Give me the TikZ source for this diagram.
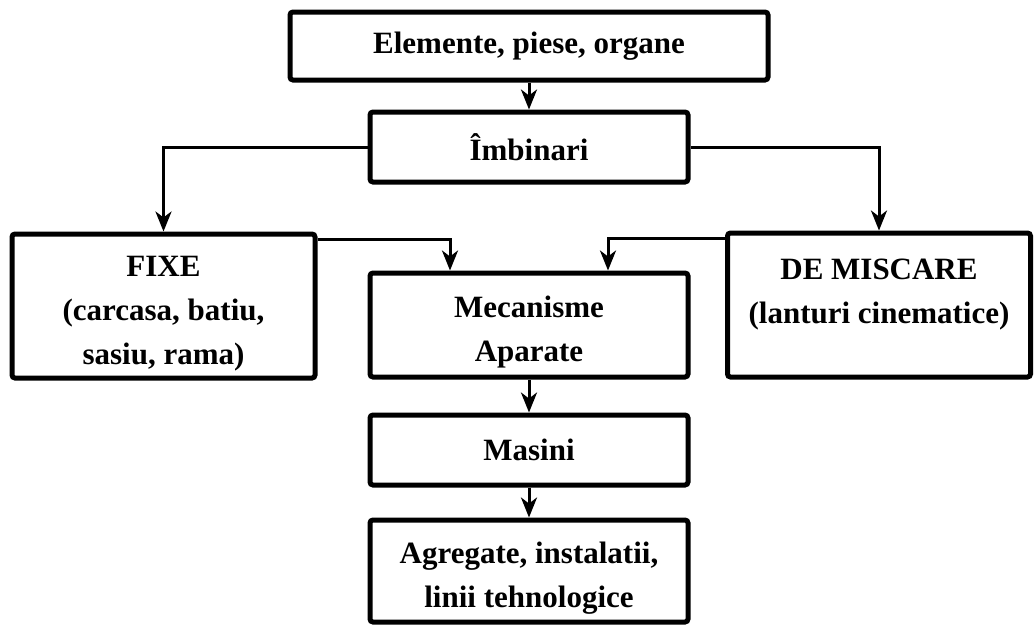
\documentclass[tikz,border=0pt]{standalone}
\usepackage{fontspec}
\setmainfont{Liberation Serif}[BoldFont={Liberation Serif Bold}]
\usetikzlibrary{arrows.meta, positioning}
\newcommand{\topgap}{\rule{0pt}{36pt}}

\begin{document}
\begin{tikzpicture}[
            x=1pt, y=-1pt,
            block/.style ={rectangle, rounded corners=3pt, draw=black, line width=5pt,
                           fill=white, minimum width=318pt, align=center, inner sep=0pt,
                           font=\fontsize{31}{44}\selectfont\bfseries},
            arrow/.style ={-{Stealth[length=20pt, width=16pt, inset=6pt]}, line width=3pt}
        ]
        \useasboundingbox (0,0) rectangle (1034,625);
        \node[block, minimum width=478pt, minimum height=68pt] (elem) at (529,46) {Elemente, piese, organe};
        \node[block, minimum height=70pt, below=27pt of elem]  (imb)    {Îmbinari};
        \node[block, minimum height=104pt, below=86pt of imb]  (mec)    {\topgap Mecanisme\\Aparate};
        \node[block, minimum width=303pt, minimum height=144pt] (fixe) at (163.5,306)
            {\topgap FIXE\\(carcasa, batiu,\\sasiu, rama)};
        \node[block, minimum width=303pt, minimum height=144pt] (misc) at (879,305)
            {\topgap DE MISCARE\\(lanturi cinematice)\\\mbox{}};
        \node[block, minimum height=70pt, below=33pt of mec]    (masini) {Masini};
        \node[block, minimum height=102pt, below=30pt of masini] (agr)  {\topgap Agregate, instalatii,\\linii tehnologice};

        \draw[arrow] (elem)  -- (imb);
        \draw[arrow] (imb.west) -| (fixe.north);
        \draw[arrow] (imb.east) -| (misc.north);
        \draw[arrow] ([yshift=-8pt]fixe.north east) -| ([xshift=-79pt]mec.north);
        \draw[arrow] ([yshift=-8pt]misc.north west) -| ([xshift=79pt]mec.north);
        \draw[arrow] (mec)   -- (masini);
        \draw[arrow] (masini) -- (agr);
        \end{tikzpicture}
\end{document}
